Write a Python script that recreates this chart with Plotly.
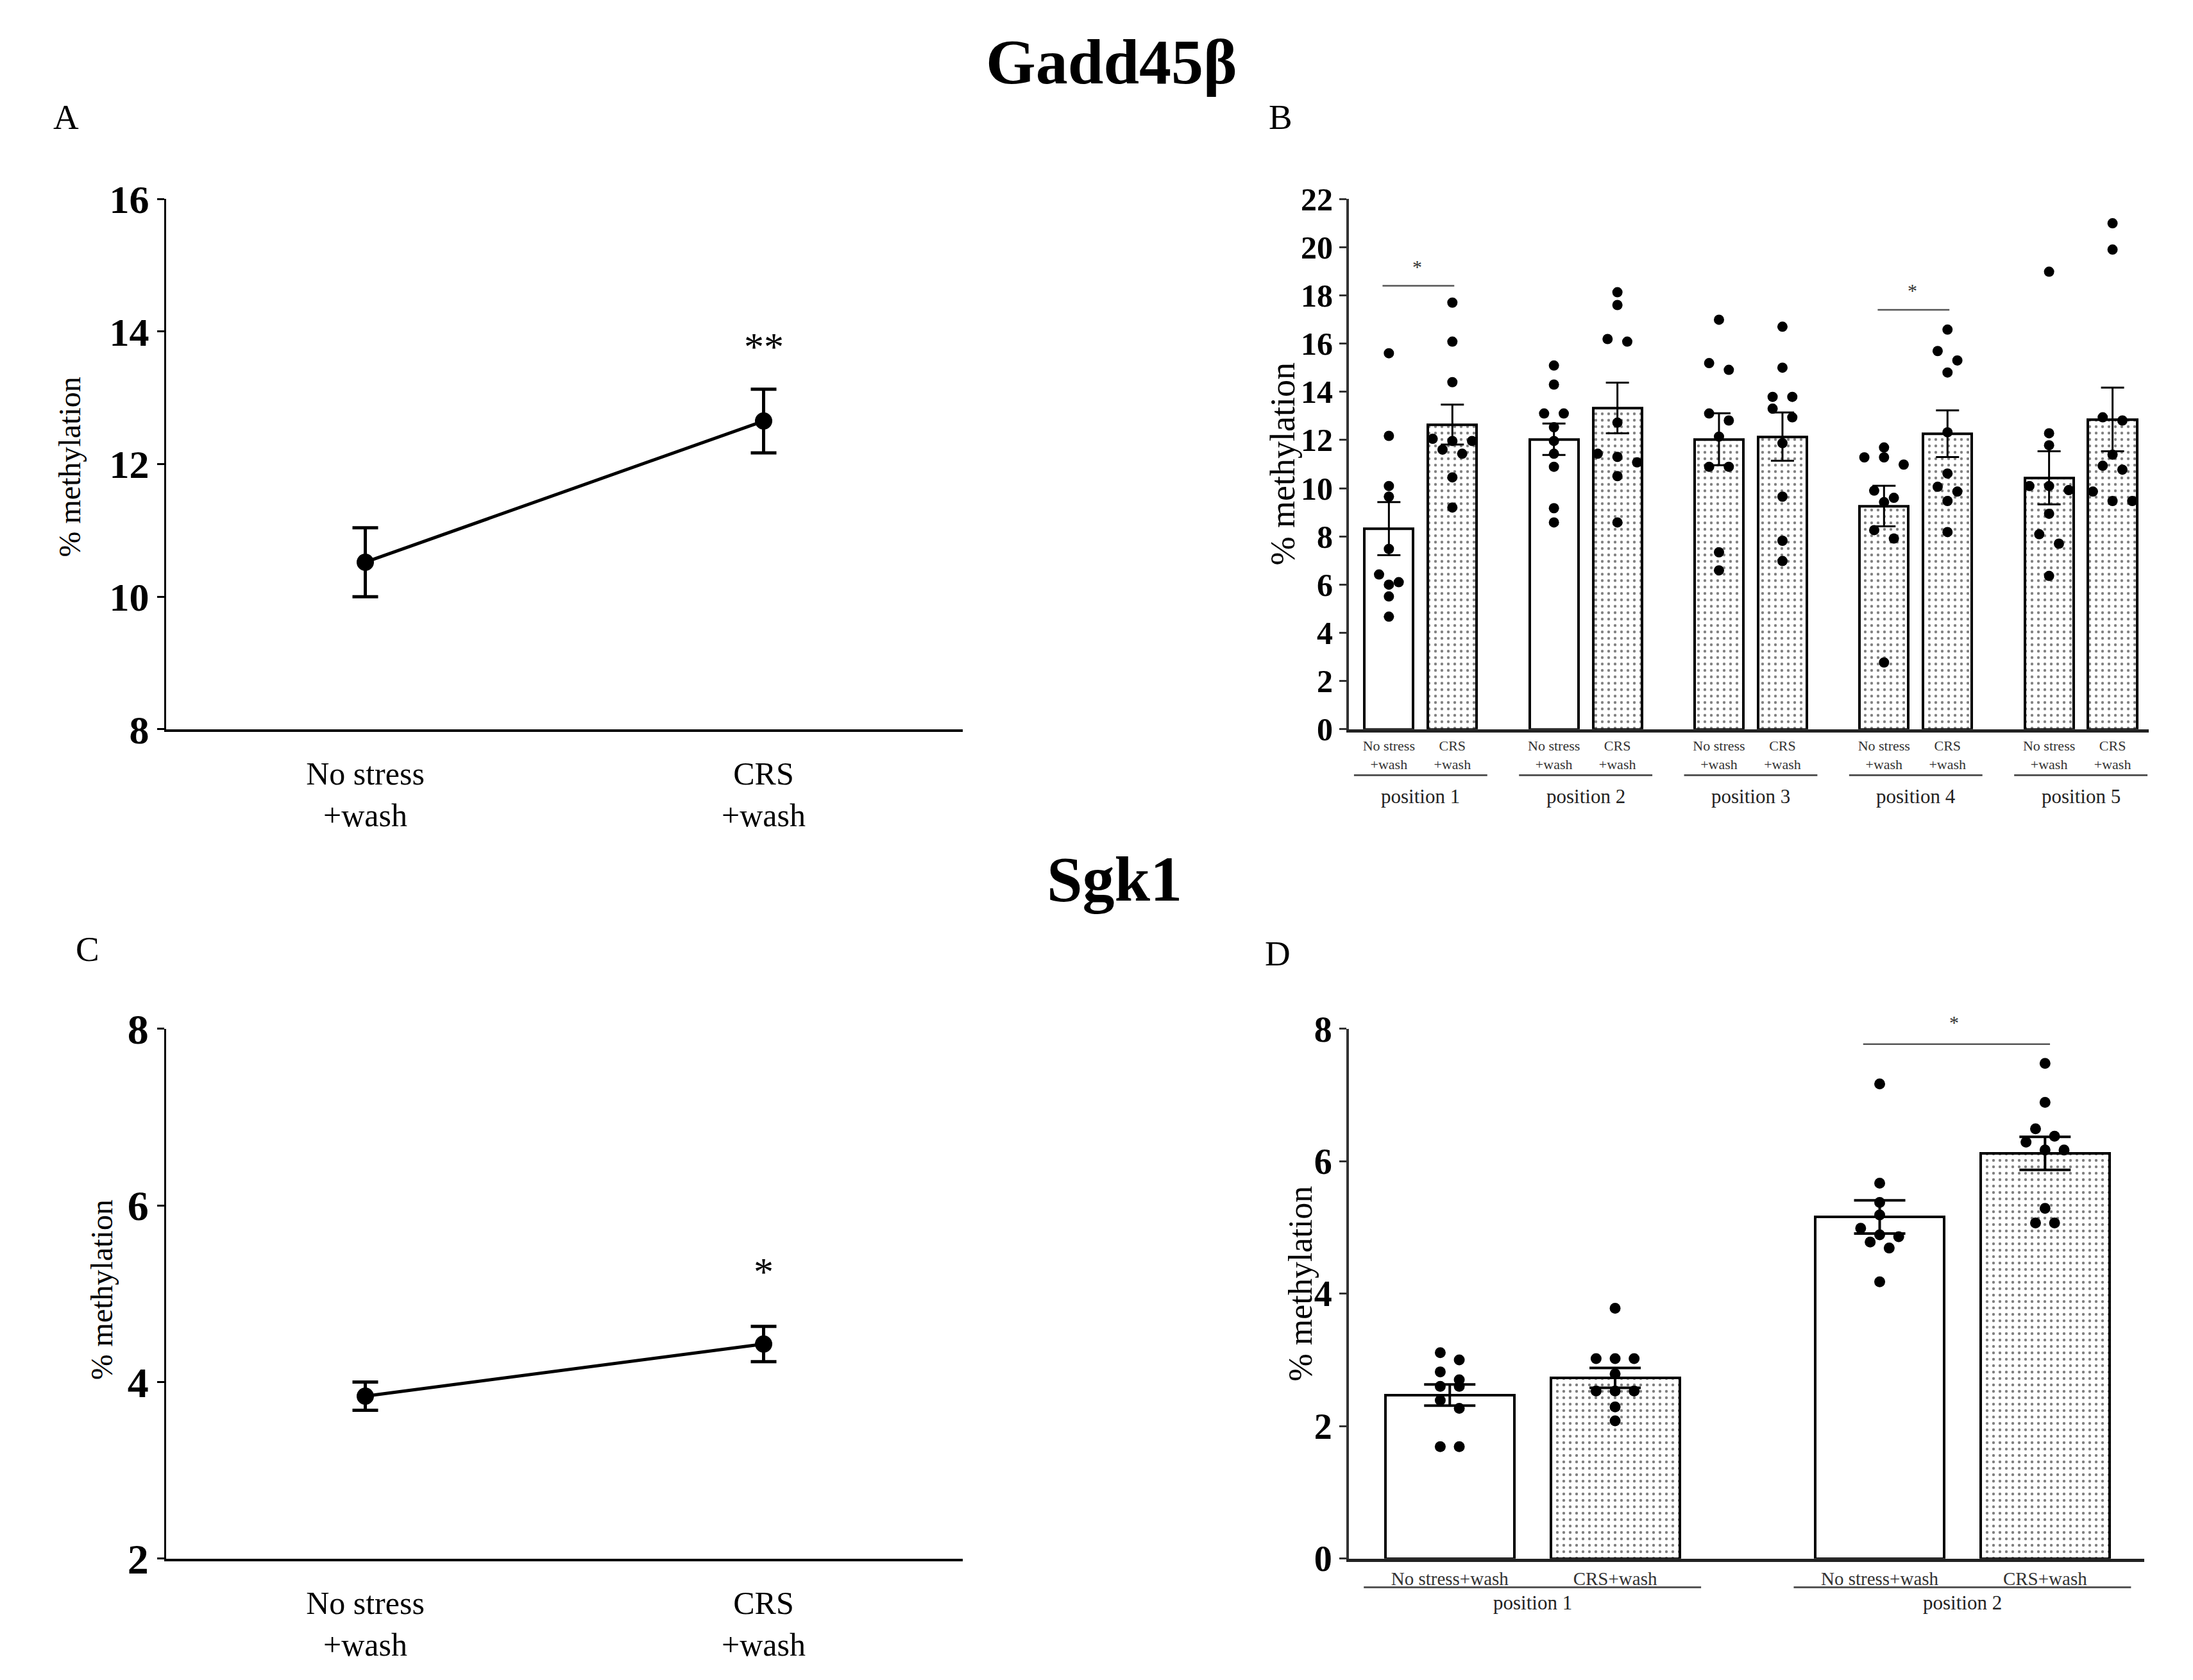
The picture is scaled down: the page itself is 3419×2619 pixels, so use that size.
import plotly.graph_objects as go

W, H = 3419, 2619
SERIF = "Liberation Serif"

# ---- data ----
groups = ["No stress<br>+wash", "CRS<br>+wash"]

# A: Gadd45b mean methylation
a_mean = [10.52, 12.65]
a_sem = [0.52, 0.48]
a_star = ["", "**"]

# C: Sgk1 mean methylation
c_mean = [3.84, 4.43]
c_sem = [0.16, 0.20]
c_star = ["", "*"]

# B: Gadd45b per CpG position
b_positions = ["position 1", "position 2", "position 3", "position 4", "position 5"]
b_ns_mean = [8.32, 12.03, 12.03, 9.26, 10.43]
b_crs_mean = [12.64, 13.33, 12.14, 12.26, 12.85]
b_ns_sem = [1.10, 0.65, 1.08, 0.84, 1.10]
b_crs_sem = [0.83, 1.05, 1.00, 0.97, 1.32]
b_ns_dotted = [False, False, True, True, True]
b_ns_points = [
    [15.6, 12.17, 10.09, 9.65, 7.48, 6.42, 6.1, 6.0, 5.51, 4.67],
    [15.09, 14.3, 13.1, 13.1, 12.53, 11.96, 11.43, 10.89, 9.17, 8.58],
    [16.99, 15.19, 14.91, 13.1, 12.81, 12.14, 10.89, 10.89, 7.34, 6.59],
    [11.69, 11.28, 11.28, 10.98, 9.9, 9.6, 9.42, 8.26, 7.91, 2.77],
    [18.98, 12.28, 11.78, 10.09, 10.09, 9.92, 8.94, 8.09, 7.7, 6.36],
]
b_crs_points = [
    [17.7, 16.08, 14.4, 12.05, 11.96, 11.96, 11.6, 11.43, 10.45, 9.2],
    [18.13, 17.6, 16.19, 16.08, 12.72, 11.43, 11.3, 11.07, 10.5, 8.58],
    [16.7, 15.0, 13.79, 13.79, 13.3, 12.94, 11.87, 9.65, 7.82, 6.98],
    [16.58, 15.69, 15.3, 14.8, 12.32, 10.61, 10.06, 9.86, 9.47, 8.18],
    [20.99, 19.9, 12.94, 12.81, 11.39, 10.93, 10.77, 9.86, 9.47, 9.47],
]
b_sig = [(0, 18.4), (3, 17.4)]   # (position index, bracket height)

# D: Sgk1 per CpG position
d_positions = ["position 1", "position 2"]
d_ns_mean = [2.47, 5.16]
d_crs_mean = [2.73, 6.12]
d_ns_sem = [0.16, 0.25]
d_crs_sem = [0.15, 0.25]
d_ns_dotted = [False, False]
d_ns_points = [
    [3.11, 3.0, 2.82, 2.7, 2.6, 2.6, 2.39, 2.27, 1.69, 1.69],
    [7.17, 5.67, 5.38, 5.19, 4.99, 4.89, 4.86, 4.78, 4.69, 4.18],
]
d_crs_points = [
    [3.78, 3.02, 3.02, 3.02, 2.79, 2.53, 2.53, 2.53, 2.29, 2.08],
    [7.48, 6.89, 6.49, 6.38, 6.29, 6.17, 6.17, 5.29, 5.07, 5.07],
]
d_sig = [(1, 7.77)]

GAP = 2.6  # distance between position groups (in bar units)

# the rendered page comes out shifted/squeezed vertically; compensate
Y_OFF, Y_SCALE = 45.8, 0.976


def fx(px):
    return px / W


def fy(py):
    return 1 - ((py - Y_OFF) / Y_SCALE) / H


def swarm(vals, ythr, step):
    # simple centred-row scatter layout like GraphPad
    order = sorted(vals, reverse=True)
    rows, row = [], []
    for v in order:
        if row and row[0] - v > ythr:
            rows.append(row)
            row = []
        row.append(v)
    rows.append(row)
    out = []
    for r in rows:
        n = len(r)
        for i, v in enumerate(r):
            out.append(((i - (n - 1) / 2) * step, v))
    return out


fig = go.Figure()


def line_panel(xa, ya, mean, sem, star, ystar):
    fig.add_trace(go.Scatter(
        x=[0, 1], y=mean, xaxis=xa, yaxis=ya, mode="lines+markers",
        line=dict(color="black", width=5),
        marker=dict(color="black", size=27),
        error_y=dict(type="data", array=sem, color="black", thickness=5, width=20),
        showlegend=False, hoverinfo="skip"))
    for i, s in enumerate(star):
        if s:
            fig.add_annotation(x=i, y=mean[i] + sem[i] + ystar, xref=xa, yref=ya,
                               text=s, showarrow=False, yanchor="middle",
                               font=dict(family=SERIF, size=62, color="black"))


def bar_panel(xa, ya, positions, ns_mean, crs_mean, ns_sem, crs_sem, ns_dotted,
              ns_pts, crs_pts, sig, p):
    xs, ys, es, shapes, labels = [], [], [], [], []
    dx, dy = [], []
    for g in range(len(positions)):
        for k, (m, e, pts, dot) in enumerate([
                (ns_mean[g], ns_sem[g], ns_pts[g], ns_dotted[g]),
                (crs_mean[g], crs_sem[g], crs_pts[g], True)]):
            x = GAP * g + k
            xs.append(x)
            ys.append(m)
            es.append(e)
            shapes.append("." if dot else "")
            labels.append(p["labels"][k])
            for off, v in swarm(pts, p["ythr"], p["step"]):
                dx.append(x + off)
                dy.append(v)
    fig.add_trace(go.Bar(
        x=xs, y=ys, xaxis=xa, yaxis=ya, width=p["barw"],
        marker=dict(color="white", line=dict(color="black", width=p["lw"]),
                    pattern=dict(shape=shapes, fgcolor="black", bgcolor="white",
                                 size=p["psize"], solidity=p["psol"])),
        showlegend=False, hoverinfo="skip"))
    fig.add_trace(go.Scatter(
        x=dx, y=dy, xaxis=xa, yaxis=ya, mode="markers",
        marker=dict(color="black", size=p["dot"]),
        showlegend=False, hoverinfo="skip"))
    fig.add_trace(go.Scatter(
        x=xs, y=ys, xaxis=xa, yaxis=ya, mode="markers",
        marker=dict(color="rgba(0,0,0,0)", size=1),
        error_y=dict(type="data", array=es, color="black",
                     thickness=p["ew"], width=p["cap"]),
        showlegend=False, hoverinfo="skip"))
    for g, name in enumerate(positions):
        c = GAP * g + 0.5
        fig.add_shape(type="line", xref=xa, yref="paper",
                      x0=c - p["gl"], x1=c + p["gl"], y0=fy(p["gly"]), y1=fy(p["gly"]),
                      line=dict(color="#555", width=3))
        fig.add_annotation(x=c, y=fy(p["pty"]), xref=xa, yref="paper", text=name,
                           showarrow=False, yanchor="middle",
                           font=dict(family=SERIF, size=p["ptf"], color="#222"))
    for g, h in sig:
        fig.add_shape(type="line", xref=xa, yref=ya,
                      x0=GAP * g - 0.1, x1=GAP * g + 1.03, y0=h, y1=h,
                      line=dict(color="#555", width=2.5))
        fig.add_annotation(x=GAP * g + 0.45, y=h, yshift=p["sty"], xref=xa, yref=ya,
                           text="*", showarrow=False, yanchor="middle",
                           font=dict(family=SERIF, size=30, color="#333"))
    return xs, labels


line_panel("x", "y", a_mean, a_sem, a_star, 0.65)
line_panel("x3", "y3", c_mean, c_sem, c_star, 0.62)

b_params = dict(labels=["No stress<br>+wash", "CRS<br>+wash"], ythr=0.4, step=0.31,
                barw=0.77, lw=4, psize=10, psol=0.15, dot=16, ew=3, cap=18,
                gl=1.05, gly=1215, pty=1248, ptf=31, sty=30)
d_params = dict(labels=["No stress+wash", "CRS+wash"], ythr=0.17, step=0.115,
                barw=0.78, lw=4, psize=10, psol=0.15, dot=17, ew=4, cap=40,
                gl=1.02, gly=2486, pty=2510, ptf=31, sty=34)

bx, blab = bar_panel("x2", "y2", b_positions, b_ns_mean, b_crs_mean, b_ns_sem, b_crs_sem,
                     b_ns_dotted, b_ns_points, b_crs_points, b_sig, b_params)
dx_, dlab = bar_panel("x4", "y4", d_positions, d_ns_mean, d_crs_mean, d_ns_sem, d_crs_sem,
                      d_ns_dotted, d_ns_points, d_crs_points, d_sig, d_params)

top_dom = [fy(1143), fy(313)]
bot_dom = [fy(2441), fy(1612)]


def yax(dom, anchor, rng, dtick, size, lw, color):
    return dict(domain=dom, anchor=anchor, range=rng, dtick=dtick, showgrid=False,
                zeroline=False, showline=True, linecolor=color, linewidth=lw,
                ticks="outside", ticklen=11, tickwidth=3, tickcolor=color,
                tickfont=dict(family=SERIF, size=size, color="black", weight="bold"))


def xax_line(dom, anchor):
    return dict(domain=dom, anchor=anchor, range=[-0.5, 1.5], tickvals=[0, 1],
                ticktext=groups, showgrid=False, zeroline=False, showline=True,
                linecolor="black", linewidth=4, ticks="", ticklabelstandoff=22,
                tickfont=dict(family=SERIF, size=50, color="black"))


def xax_bar(dom, anchor, rng, vals, text, size):
    return dict(domain=dom, anchor=anchor, range=rng, tickvals=vals, ticktext=text,
                showgrid=False, zeroline=False, showline=True, linecolor="#222",
                linewidth=5, ticks="", tickangle=0, ticklabelstandoff=2,
                tickfont=dict(family=SERIF, size=size, color="#333"))


fig.update_layout(
    width=W, height=H, margin=dict(l=0, r=0, t=0, b=0),
    paper_bgcolor="white", plot_bgcolor="white", showlegend=False, bargap=0,
    xaxis=xax_line([fx(251), fx(1493)], "y"),
    yaxis=yax(top_dom, "x", [8, 16], 2, 62, 3, "black"),
    xaxis3=xax_line([fx(251), fx(1493)], "y3"),
    yaxis3=yax(bot_dom, "x3", [2, 8], 2, 66, 3, "black"),
    xaxis2=xax_bar([fx(2095), fx(3342)], "y2", [-0.63, 11.97], bx, blab, 22),
    yaxis2=yax(top_dom, "x2", [0, 22], 2, 50, 4, "#333"),
    xaxis4=xax_bar([fx(2095), fx(3335)], "y4", [-0.61, 4.2], dx_, dlab, 29),
    yaxis4=yax(bot_dom, "x4", [0, 8], 2, 56, 4, "#333"),
)

# titles, panel letters, y titles
texts = [
    ("Gadd45β", 1725, 99, 100, "bold", 0),
    ("Sgk1", 1730, 1378, 100, "bold", 0),
    ("A", 95, 185, 55, "normal", 0),
    ("B", 1988, 185, 55, "normal", 0),
    ("C", 128, 1487, 55, "normal", 0),
    ("D", 1984, 1494, 55, "normal", 0),
    ("% methylation", 100, 733, 48, "normal", -90),
    ("% methylation", 150, 2021, 48, "normal", -90),
    ("% methylation", 1992, 728, 54, "normal", -90),
    ("% methylation", 2019, 2010, 52, "normal", -90),
]
for t, x, y, s, wgt, ang in texts:
    fig.add_annotation(x=fx(x), y=fy(y), xref="paper", yref="paper", text=t,
                       showarrow=False, xanchor="center", yanchor="middle", textangle=ang,
                       font=dict(family=SERIF, size=s, color="black", weight=wgt))

fig.write_html("out.html")
